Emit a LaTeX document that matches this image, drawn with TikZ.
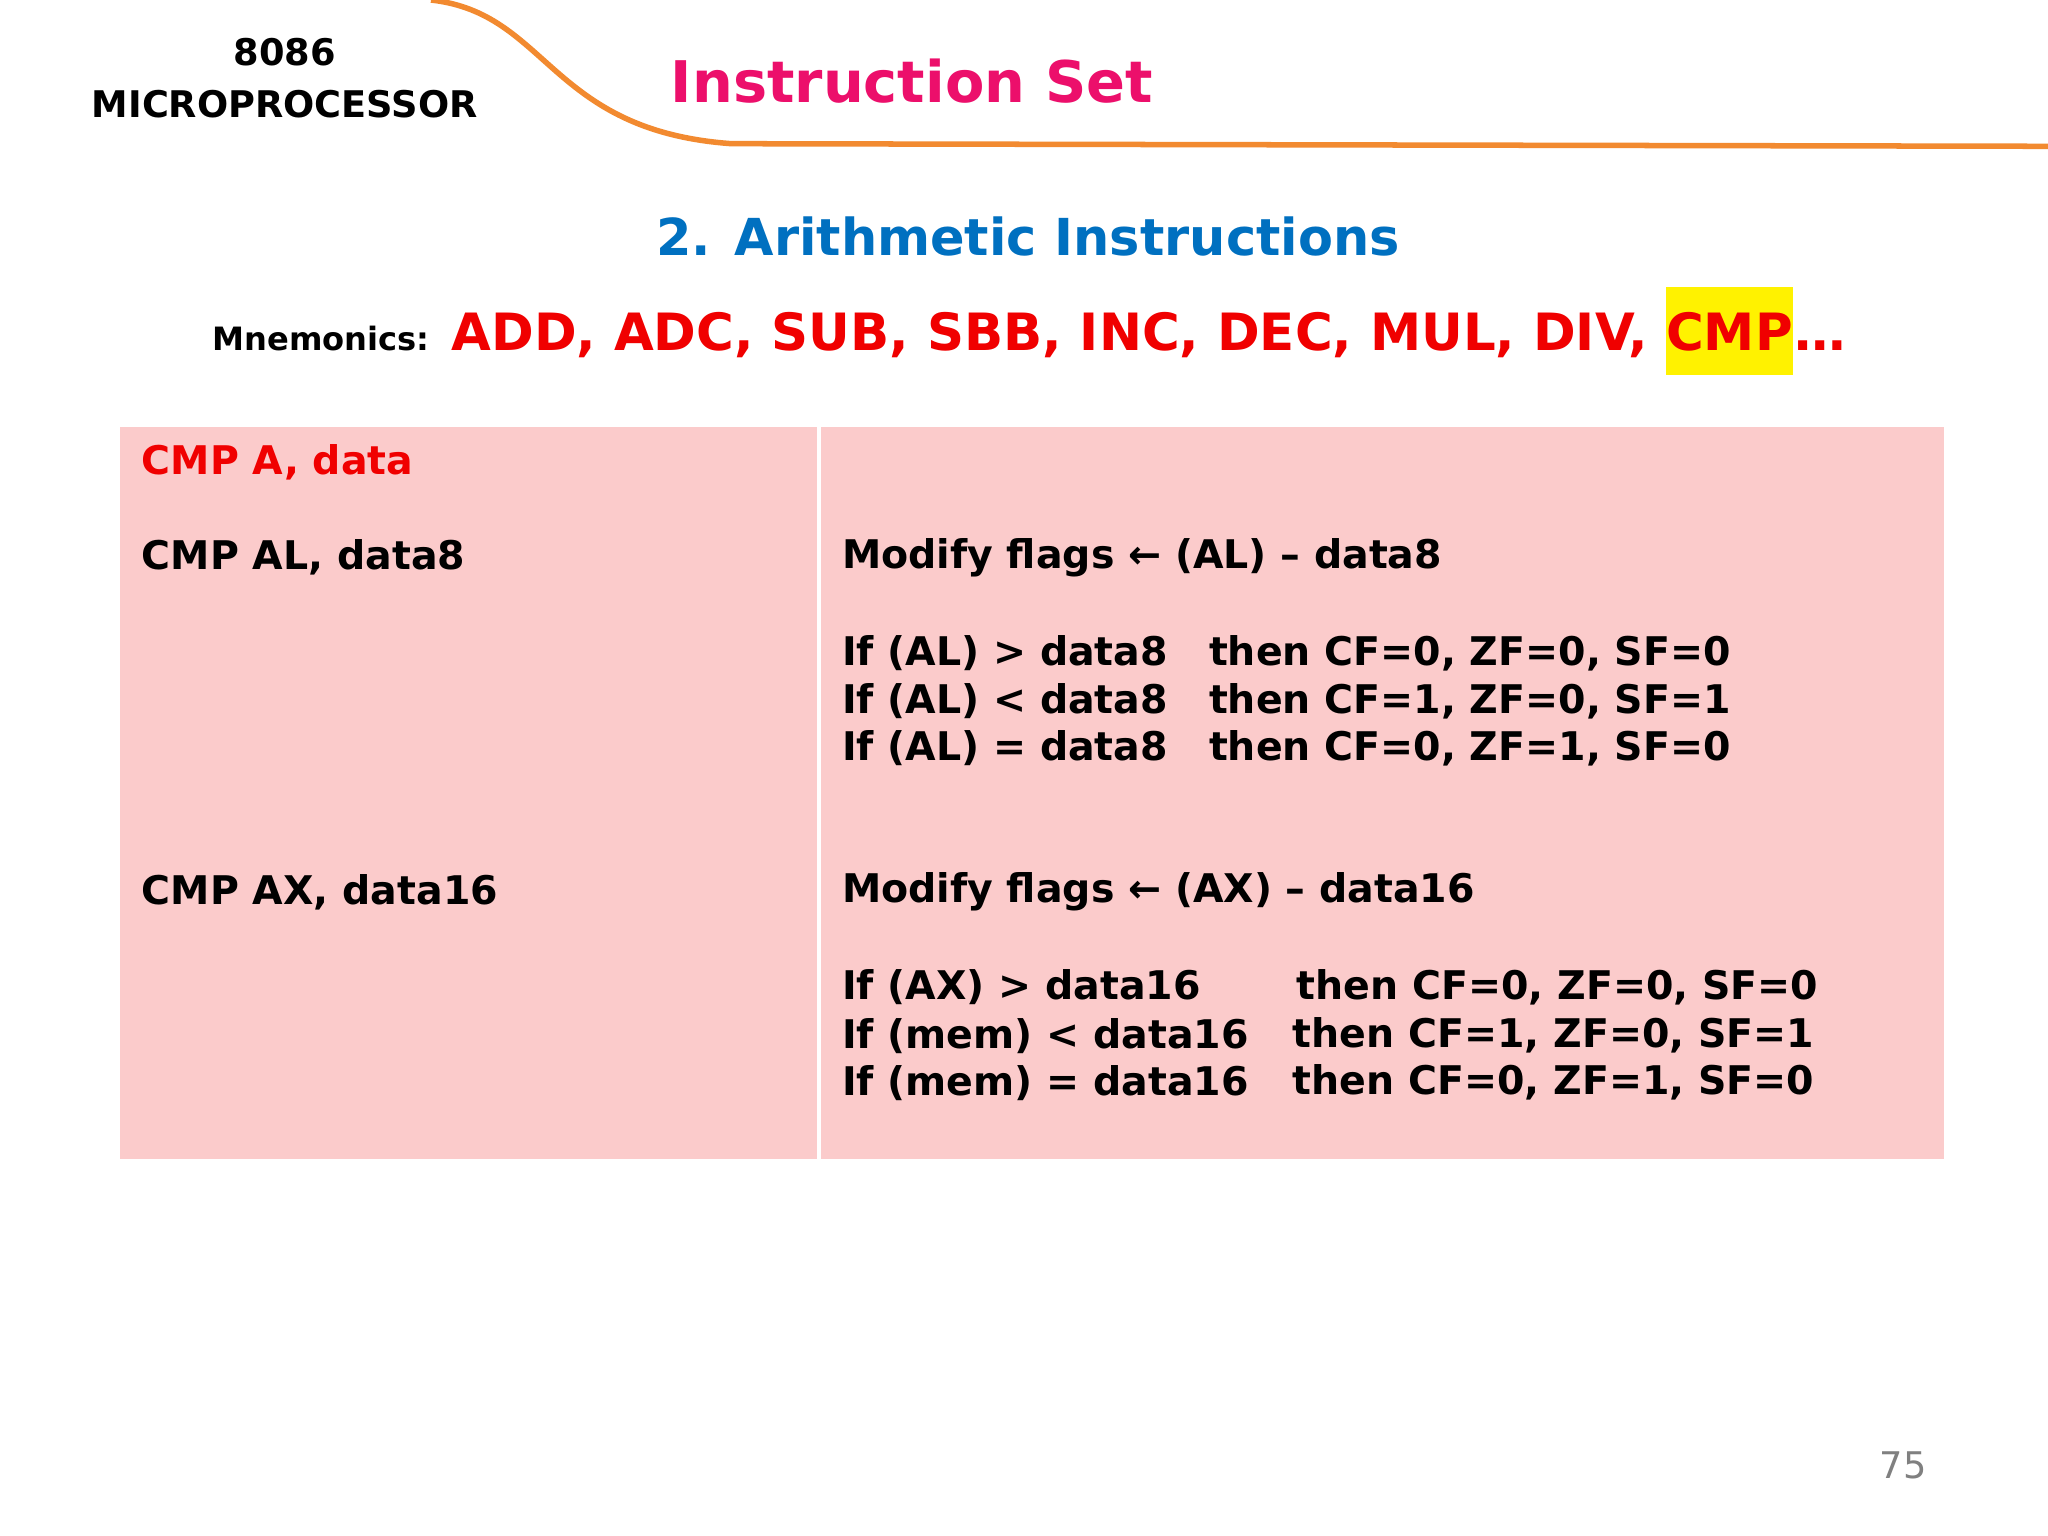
\documentclass[tikz,border=0pt]{standalone}
\usepackage{fontspec}
\setmainfont{DejaVu Sans}
\definecolor{pinkbg}{HTML}{FBCBCB}
\definecolor{titlemag}{HTML}{EC0F6B}
\definecolor{subblue}{HTML}{0070C0}
\definecolor{hdrorange}{HTML}{F28A30}
\definecolor{redtxt}{HTML}{F00000}
\begin{document}
\begin{tikzpicture}[x=0.1mm,y=-0.1mm,
  body/.style={anchor=west,inner sep=0,font=\bfseries\fontsize{8.6}{10}\selectfont},
  lt/.style={body},
  mnem/.style={anchor=base west,inner sep=0,text=redtxt,font=\bfseries\fontsize{11.2}{14}\selectfont}]
\useasboundingbox (0,0) rectangle (1568,1176);
\fill[white] (0,0) rectangle (1568,1176);
% header
\draw[hdrorange,line width=1.2pt] (330,0) .. controls (420,10) and (420,100) .. (560,110) -- (1568,112);
\node[font=\bfseries\fontsize{8}{10}\selectfont,inner sep=0] (h1) at (218,40) {8086};
\node[font=\bfseries\fontsize{8}{10}\selectfont,inner sep=0] (h2) at (218,80) {MICROPROCESSOR};
\node[anchor=west,inner sep=0,text=titlemag,font=\bfseries\fontsize{12.5}{16}\selectfont] (title) at (513,62) {Instruction Set};
\node[inner sep=0,text=subblue,font=\bfseries\fontsize{11.1}{14}\selectfont] (sub) at (787,181) {2. Arithmetic Instructions};
% mnemonics
\node[anchor=base west,inner sep=0,font=\bfseries\fontsize{7}{8}\selectfont] (mn) at (162,268) {Mnemonics:};
\node[mnem] (mlist) at (345,268) {ADD, ADC, SUB, SBB, INC, DEC, MUL, DIV,};
\node[mnem,fill=yellow,text height=13.7pt,text depth=5.4pt] (mcmp) at ([xshift=3.6pt]mlist.base east) {CMP};
\node[mnem] (mdots) at (mcmp.base east) {…};
% table
\fill[pinkbg] (92,327) rectangle (1488,887);
\draw[white,line width=1pt] (627,327) -- (627,887);
\node[lt,text=redtxt] (l0) at (108,354) {CMP A, data};
\node[lt] (l1) at (108,427) {CMP AL, data8};
\node[lt] (l2) at (108,683) {CMP AX, data16};
\node[body] (r1) at (644,427) {Modify flags ← (AL) – data8};
\node[body] (r2) at (644,500) {If (AL) > data8};
\node[body] (r3) at (644,537) {If (AL) < data8};
\node[body] (r4) at (644,573) {If (AL) = data8};
\node[body] (t2) at (925,500) {then CF=0, ZF=0, SF=0};
\node[body] (t3) at (925,537) {then CF=1, ZF=0, SF=1};
\node[body] (t4) at (925,573) {then CF=0, ZF=1, SF=0};
\node[body] (r5) at (644,683) {Modify flags ← (AX) – data16};
\node[body] (r6) at (644,756) {If (AX) > data16};
\node[body] (r7) at (644,793) {If (mem) < data16};
\node[body] (r8) at (644,829) {If (mem) = data16};
\node[body] (t6) at (992,756) {then CF=0, ZF=0, SF=0};
\node[body] (t7) at (989,793) {then CF=1, ZF=0, SF=1};
\node[body] (t8) at (989,829) {then CF=0, ZF=1, SF=0};
\node[inner sep=0,text=gray,font=\fontsize{8}{10}\selectfont] (pg) at (1457,1122) {75};
\end{tikzpicture}
\end{document}
